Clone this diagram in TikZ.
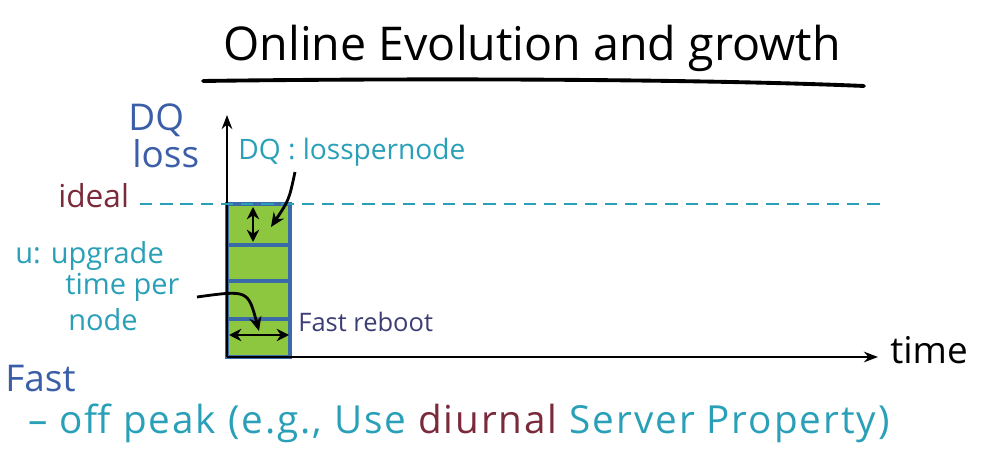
\documentclass[tikz,border=0pt]{standalone}
\usepackage{fontspec}
\setmainfont{Open Sans}
\usetikzlibrary{arrows.meta, positioning, calc}
\definecolor{inkteal}{RGB}{42,160,184}
\definecolor{inkblue}{RGB}{59,94,168}
\definecolor{inkmaroon}{RGB}{122,42,58}
\definecolor{inknavy}{RGB}{61,61,117}
\definecolor{cellgreen}{RGB}{141,198,63}
\definecolor{cellblue}{RGB}{59,106,168}
\newcommand{\fsz}[1]{\fontsize{#1}{1.15\dimexpr#1\relax}\selectfont}

\begin{document}
\begin{tikzpicture}[x=0.02cm, y=-0.02cm,
  ink/.style={line width=1.6pt, -{Stealth[length=8pt,width=7pt]}},
  twoway/.style={line width=1.6pt, {Stealth[length=7pt,width=7pt]}-{Stealth[length=7pt,width=7pt]}},
  axis/.style={line width=1.4pt, -{Stealth[length=8pt,width=6pt,open]}},
  cell/.style={draw=cellblue, fill=cellgreen, line width=2.2pt},
  lbl/.style={inner sep=0pt, anchor=west}]
  \useasboundingbox (0,0) rectangle (983,475);
  % title
  \node (title) at (532,48) {\fsz{26.5pt}Online Evolution and growth};
  \coordinate (ulA) at (203,81);
  \coordinate (ulB) at (864,86);
  \draw[line width=2.2pt, line cap=round] (ulA) .. controls (420,78) and (700,79) .. (ulB);
  % stacked upgrade cells
  \foreach \top/\bot in {204/245, 245/281, 281/319, 319/357} {
    \draw[cell] (227,\top) rectangle (290,\bot);
  }
  % axes
  \coordinate (origin) at (227,357);
  \coordinate (ytip) at (227,115);
  \coordinate (xtip) at (878,357);
  \draw[axis] (origin) -- (ytip);
  \draw[axis] (origin) -- (xtip);
  \node[lbl] (time) at (890,350) {\fsz{21pt}time};
  % ideal level
  \coordinate (idealA) at (140,204);
  \coordinate (idealB) at (880,204);
  \draw[inkteal, line width=1.2pt, dash pattern=on 7pt off 4.5pt] (idealA) -- (idealB);
  \node[lbl, inkmaroon] (ideal) at (58,196) {\fsz{18pt}ideal};
  \node[lbl, inkblue] (dq) at (128,120) {\fsz{21pt}DQ};
  \node[lbl, inkblue] (loss) at (132,154) {\fsz{21pt}loss};
  \node[lbl, inkteal] (dqnote) at (238,152) {\fsz{16pt}DQ : losspernode};
  % loss per node
  \coordinate (dqtop) at (253,207);
  \coordinate (dqbot) at (253,242);
  \draw[twoway] (dqtop) -- (dqbot);
  \coordinate (dqfrom) at (295,172);
  \coordinate (dqto) at (271,227);
  \draw[ink] (dqfrom) .. controls (289,200) .. (dqto);
  % upgrade time per node
  \node[lbl, inkteal] (unote) at (15,256) {\fsz{16.5pt}u: upgrade};
  \node[lbl, inkteal] (utime) at (65,287) {\fsz{16.5pt}time per};
  \node[lbl, inkteal] (unode) at (68,320) {\fsz{16.5pt}node};
  \coordinate (uleft) at (229,335);
  \coordinate (uright) at (289,335);
  \draw[twoway] (uleft) -- (uright);
  \coordinate (ufrom) at (197,297);
  \coordinate (uto) at (259,331);
  \draw[ink] (ufrom) .. controls (248,290) .. (uto);
  \node[lbl, inknavy] (reboot) at (298,322) {\fsz{14.5pt}Fast reboot};
  % notes
  \node[lbl, inkblue] (fast) at (5,379) {\fsz{21pt}Fast};
  \node[lbl, inkteal] (offpeak) at (28,423) {\fsz{22pt}\addfontfeature{LetterSpace=5}– off peak (e.g., Use {\color{inkmaroon}diurnal} Server Property)};
\end{tikzpicture}
\end{document}
